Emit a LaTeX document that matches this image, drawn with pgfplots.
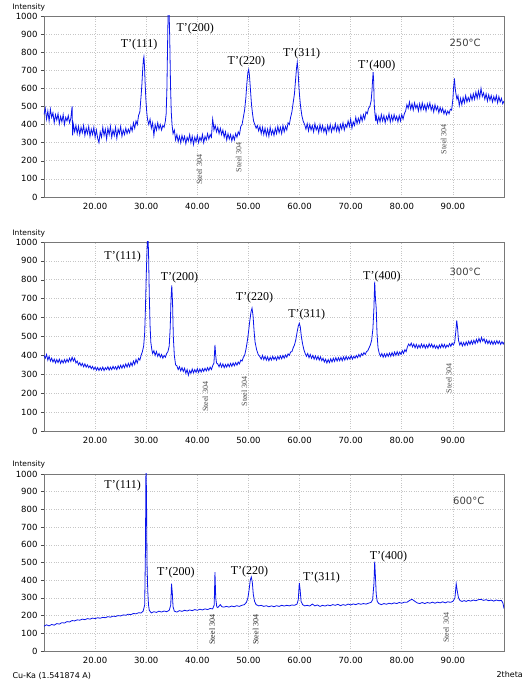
\documentclass[border=0pt]{standalone}
\usepackage{fontspec}
\setmainfont{DejaVu Sans}
\newfontfamily\tnr{Liberation Serif}
\usepackage{pgfplots}
\pgfplotsset{compat=1.18}

\definecolor{xrdblue}{RGB}{10,20,235}
\definecolor{framegray}{RGB}{120,120,120}

\pgfplotsset{
  xrdpanel/.style={
    scale only axis, width=460pt, anchor=south west,
    xmin=10, xmax=100, ymin=0, ymax=1000,
    xtick={20,30,...,90}, ytick={0,100,...,1000},
    grid=major, major grid style={dotted, gray!45, line width=0.6pt},
    axis line style={framegray, line width=0.8pt},
    tick pos=left, tick align=outside, major tick length=3pt,
    xtick style={draw=none}, ytick style={black!70, line width=0.5pt},
    scaled ticks=false,
    /pgf/number format/assume math mode=true,
    tick label style={font=\fontsize{8.5}{10}\selectfont},
    xticklabel style={/pgf/number format/.cd, fixed, fixed zerofill, precision=2},
    yticklabel style={/pgf/number format/.cd, fixed, precision=0, 1000 sep={}},
    clip mode=individual,
  },
}
\tikzset{
  peak/.style={font=\tnr\fontsize{12}{12}\selectfont},
  steel/.style={rotate=90, font=\tnr\fontsize{8}{8}\selectfont, text=black!70},
  temp/.style={font=\fontsize{10}{10}\selectfont, text=black!75},
}

\begin{document}
\begin{tikzpicture}
\useasboundingbox (0,0) rectangle (524pt,683pt);

% ---- 250 C ----
\begin{axis}[xrdpanel, at={(44pt,486pt)}, height=181pt]
\addplot[xrdblue, line width=0.8pt, mark=none] coordinates {
(10,455)(10.25,490)(10.5,430)(10.75,475)(11,420)(11.25,485)(11.5,440)(11.75,465)(12,410)(12.25,455)(12.5,425)(12.75,460)(13,405)(13.25,445)(13.5,415)(13.75,455)(14,400)(14.25,440)(14.5,420)(14.75,450)(15,410)(15.25,435)(15.5,500)(15.6,340)(15.75,400)(16,360)(16.25,395)(16.5,350)(16.75,390)(17,345)(17.25,385)(17.5,355)(17.75,395)(18,340)(18.25,380)(18.5,350)(18.75,390)(19,335)(19.25,375)(19.5,345)(19.75,385)(20,330)(20.25,370)(20.5,325)(20.75,300)(21,360)(21.25,330)(21.5,385)(21.75,340)(22,375)(22.25,320)(22.5,380)(22.75,345)(23,390)(23.25,330)(23.5,370)(23.75,340)(24,385)(24.25,325)(24.5,375)(24.75,350)(25,390)(25.25,335)(25.5,370)(25.75,345)(26,380)(26.25,350)(26.5,375)(26.75,355)(27,390)(27.25,365)(27.5,410)(27.75,380)(28,420)(28.25,400)(28.5,450)(28.75,470)(29,560)(29.15,620)(29.3,700)(29.45,760)(29.55,775)(29.65,730)(29.8,620)(29.95,530)(30.1,470)(30.25,430)(30.5,400)(30.75,430)(31,380)(31.25,410)(31.5,340)(31.75,400)(32,370)(32.25,410)(32.5,375)(32.75,400)(33,370)(33.25,395)(33.5,385)(33.75,420)(33.9,460)(34.05,600)(34.2,880)(34.3,1050)(34.45,1050)(34.6,880)(34.75,620)(34.9,470)(35.05,400)(35.25,350)(35.5,370)(35.75,315)(36,345)(36.25,305)(36.5,335)(36.75,300)(37,340)(37.25,310)(37.5,335)(37.75,295)(38,330)(38.25,310)(38.5,345)(38.75,300)(39,335)(39.25,290)(39.5,330)(39.75,305)(40,340)(40.25,300)(40.5,330)(40.75,310)(41,345)(41.25,300)(41.5,335)(41.75,315)(42,350)(42.25,320)(42.5,345)(42.75,330)(43,430)(43.15,400)(43.25,370)(43.5,395)(43.75,360)(44,385)(44.25,350)(44.5,380)(44.75,345)(45,370)(45.25,330)(45.5,360)(45.75,315)(46,350)(46.25,320)(46.5,345)(46.75,310)(47,340)(47.25,315)(47.5,350)(47.75,330)(48,360)(48.25,345)(48.5,390)(48.75,400)(49,440)(49.25,480)(49.5,550)(49.7,630)(49.9,690)(50.05,705)(50.2,670)(50.4,590)(50.6,510)(50.8,460)(51,420)(51.25,400)(51.5,380)(51.75,395)(52,365)(52.25,390)(52.5,350)(52.75,385)(53,345)(53.25,380)(53.5,340)(53.75,375)(54,335)(54.25,385)(54.5,345)(54.75,370)(55,340)(55.25,380)(55.5,350)(55.75,390)(56,355)(56.25,385)(56.5,350)(56.75,395)(57,360)(57.25,390)(57.5,370)(57.75,410)(58,400)(58.25,440)(58.5,470)(58.75,520)(59,570)(59.2,640)(59.4,710)(59.55,745)(59.7,700)(59.85,620)(60,560)(60.2,500)(60.45,450)(60.7,420)(61,400)(61.25,375)(61.5,405)(61.75,365)(62,400)(62.25,370)(62.5,395)(62.75,360)(63,405)(63.25,370)(63.5,390)(63.75,355)(64,400)(64.25,365)(64.5,395)(64.75,360)(65,385)(65.25,350)(65.5,395)(65.75,365)(66,400)(66.25,360)(66.5,390)(66.75,370)(67,405)(67.25,365)(67.5,395)(67.75,360)(68,400)(68.25,375)(68.5,410)(68.75,370)(69,400)(69.25,385)(69.5,420)(69.75,390)(70,430)(70.25,380)(70.5,415)(70.75,395)(71,440)(71.25,405)(71.5,435)(71.75,410)(72,450)(72.25,420)(72.5,455)(72.75,430)(73,470)(73.25,460)(73.5,490)(73.75,500)(74,530)(74.15,580)(74.3,650)(74.4,690)(74.5,640)(74.6,520)(74.75,460)(74.9,420)(75,450)(75.25,410)(75.5,445)(75.75,415)(76,455)(76.25,420)(76.5,450)(76.75,410)(77,445)(77.25,425)(77.5,460)(77.75,415)(78,450)(78.25,420)(78.5,455)(78.75,425)(79,445)(79.25,415)(79.5,450)(79.75,420)(80,455)(80.25,430)(80.5,460)(80.75,475)(81,510)(81.25,490)(81.5,525)(81.75,485)(82,515)(82.25,480)(82.5,520)(82.75,490)(83,510)(83.25,475)(83.5,515)(83.75,480)(84,520)(84.25,485)(84.5,510)(84.75,475)(85,515)(85.25,490)(85.5,520)(85.75,480)(86,505)(86.25,470)(86.5,510)(86.75,480)(87,500)(87.25,465)(87.5,495)(87.75,470)(88,490)(88.25,460)(88.5,480)(88.75,455)(89,475)(89.25,460)(89.5,485)(89.75,480)(90,540)(90.15,610)(90.3,655)(90.45,600)(90.6,570)(90.8,540)(91,560)(91.25,505)(91.5,545)(91.75,510)(92,550)(92.25,520)(92.5,560)(92.75,525)(93,550)(93.25,530)(93.5,565)(93.75,535)(94,570)(94.25,540)(94.5,580)(94.75,545)(95,585)(95.25,550)(95.5,600)(95.75,555)(96,575)(96.25,540)(96.5,570)(96.75,530)(97,565)(97.25,535)(97.5,560)(97.75,525)(98,555)(98.25,530)(98.5,560)(98.75,520)(99,555)(99.25,525)(99.5,545)(99.75,515)(100,530)
};
\node[peak] at (axis cs:28.6,840) {T’(111)};
\node[peak] at (axis cs:39.6,930) {T’(200)};
\node[peak] at (axis cs:49.6,748) {T’(220)};
\node[peak] at (axis cs:60.4,794) {T’(311)};
\node[peak] at (axis cs:75.1,725) {T’(400)};
\node[steel] at (axis cs:40.4,150) {Steel 304};
\node[steel] at (axis cs:48.1,220) {Steel 304};
\node[steel] at (axis cs:88.2,320) {Steel 304};
\node[temp] at (axis cs:92.4,850) {250°C};
\end{axis}

% ---- 300 C ----
\begin{axis}[xrdpanel, at={(44pt,252pt)}, height=189pt]
\addplot[xrdblue, line width=0.8pt, mark=none] coordinates {
(10,400)(10.25,385)(10.5,405)(10.75,375)(11,395)(11.25,370)(11.5,385)(11.75,365)(12,380)(12.25,360)(12.5,378)(12.75,362)(13,380)(13.25,358)(13.5,375)(13.75,360)(14,378)(14.25,362)(14.5,380)(14.75,365)(15,385)(15.25,368)(15.5,390)(15.75,370)(16,385)(16.25,360)(16.5,370)(16.75,350)(17,362)(17.25,345)(17.5,358)(17.75,340)(18,355)(18.25,338)(18.5,350)(18.75,335)(19,345)(19.25,330)(19.5,342)(19.75,325)(20,338)(20.25,322)(20.5,336)(20.75,320)(21,335)(21.25,322)(21.5,338)(21.75,320)(22,335)(22.25,325)(22.5,340)(22.75,322)(23,338)(23.25,325)(23.5,342)(23.75,328)(24,340)(24.25,325)(24.5,345)(24.75,330)(25,348)(25.25,332)(25.5,350)(25.75,335)(26,355)(26.25,338)(26.5,358)(26.75,340)(27,362)(27.25,345)(27.5,370)(27.75,352)(28,378)(28.25,360)(28.5,385)(28.75,375)(29,400)(29.25,420)(29.5,450)(29.7,520)(29.85,650)(30,820)(30.15,950)(30.3,1050)(30.45,950)(30.6,720)(30.75,560)(30.9,470)(31.1,430)(31.25,410)(31.5,425)(31.75,400)(32,420)(32.25,395)(32.5,410)(32.75,390)(33,405)(33.25,385)(33.5,400)(33.75,390)(34,410)(34.25,420)(34.5,450)(34.7,550)(34.85,700)(35,770)(35.15,680)(35.3,500)(35.5,400)(35.75,350)(36,345)(36.25,325)(36.5,340)(36.75,318)(37,335)(37.25,315)(37.5,332)(37.75,305)(38,325)(38.25,295)(38.5,320)(38.75,305)(39,328)(39.25,308)(39.5,325)(39.75,310)(40,330)(40.25,310)(40.5,328)(40.75,312)(41,330)(41.25,315)(41.5,332)(41.75,318)(42,335)(42.25,320)(42.5,338)(42.75,325)(43,345)(43.25,360)(43.45,455)(43.6,400)(43.75,360)(44,355)(44.25,340)(44.5,358)(44.75,338)(45,355)(45.25,335)(45.5,352)(45.75,338)(46,355)(46.25,340)(46.5,358)(46.75,342)(47,360)(47.25,345)(47.5,362)(47.75,348)(48,365)(48.25,355)(48.5,375)(48.75,370)(49,390)(49.25,400)(49.5,430)(49.75,470)(50,520)(50.25,580)(50.5,630)(50.7,650)(50.9,610)(51.1,530)(51.3,470)(51.6,430)(51.9,405)(52.2,395)(52.5,380)(52.75,400)(53,378)(53.25,395)(53.5,375)(53.75,392)(54,372)(54.25,390)(54.5,375)(54.75,395)(55,378)(55.25,392)(55.5,375)(55.75,395)(56,380)(56.25,398)(56.5,382)(56.75,400)(57,385)(57.25,402)(57.5,390)(57.75,408)(58,400)(58.25,418)(58.5,420)(58.75,440)(59,455)(59.25,480)(59.5,520)(59.75,555)(59.95,570)(60.15,550)(60.35,500)(60.6,460)(60.85,430)(61.1,410)(61.35,395)(61.6,410)(61.85,388)(62.1,405)(62.35,385)(62.6,400)(62.85,380)(63.1,398)(63.35,378)(63.6,395)(63.85,375)(64.1,392)(64.35,372)(64.6,385)(64.85,365)(65.1,380)(65.35,360)(65.6,378)(65.85,362)(66.1,382)(66.35,365)(66.6,385)(66.85,368)(67.1,388)(67.35,370)(67.6,388)(67.85,372)(68.1,390)(68.35,372)(68.6,392)(68.85,375)(69.1,395)(69.35,378)(69.6,392)(69.85,380)(70.1,398)(70.35,380)(70.6,395)(70.85,385)(71.1,400)(71.35,388)(71.6,405)(71.85,392)(72.1,410)(72.35,400)(72.6,415)(72.85,405)(73.1,420)(73.35,425)(73.6,440)(73.85,455)(74.1,480)(74.35,540)(74.55,650)(74.7,790)(74.85,700)(75,650)(75.15,520)(75.35,440)(75.6,410)(75.85,395)(76.1,410)(76.35,390)(76.6,408)(76.85,392)(77.1,410)(77.35,395)(77.6,412)(77.85,395)(78.1,415)(78.35,398)(78.6,418)(78.85,400)(79.1,420)(79.35,402)(79.6,418)(79.85,405)(80.1,425)(80.35,410)(80.6,430)(80.85,420)(81.1,445)(81.35,460)(81.6,450)(81.85,465)(82.1,445)(82.35,460)(82.6,440)(82.85,458)(83.1,438)(83.35,455)(83.6,440)(83.85,460)(84.1,442)(84.35,458)(84.6,438)(84.85,455)(85.1,440)(85.35,462)(85.6,445)(85.85,460)(86.1,440)(86.35,455)(86.6,438)(86.85,452)(87.1,435)(87.35,455)(87.6,440)(87.85,460)(88.1,442)(88.35,458)(88.6,440)(88.85,455)(89.1,445)(89.35,462)(89.6,448)(89.85,465)(90.1,455)(90.35,470)(90.55,520)(90.75,585)(90.9,550)(91.1,480)(91.35,455)(91.6,470)(91.85,450)(92.1,468)(92.35,452)(92.6,472)(92.85,455)(93.1,475)(93.35,458)(93.6,478)(93.85,460)(94.1,480)(94.35,462)(94.6,485)(94.85,468)(95.1,490)(95.35,470)(95.6,495)(95.85,475)(96.1,488)(96.35,465)(96.6,482)(96.85,462)(97.1,478)(97.35,460)(97.6,476)(97.85,458)(98.1,475)(98.35,460)(98.6,478)(98.85,462)(99.1,476)(99.35,458)(99.6,472)(99.85,460)(100,470)
};
\node[peak] at (axis cs:25.4,921) {T’(111)};
\node[peak] at (axis cs:36.5,810) {T’(200)};
\node[peak] at (axis cs:51.2,704) {T’(220)};
\node[peak] at (axis cs:61.4,616) {T’(311)};
\node[peak] at (axis cs:76.1,815) {T’(400)};
\node[steel] at (axis cs:41.6,180) {Steel 304};
\node[steel] at (axis cs:49.2,210) {Steel 304};
\node[steel] at (axis cs:89.2,280) {Steel 304};
\node[temp] at (axis cs:92.4,841) {300°C};
\end{axis}

% ---- 600 C ----
\begin{axis}[xrdpanel, at={(44pt,32pt)}, height=177pt]
\addplot[xrdblue, line width=0.8pt, mark=none] coordinates {
(10,140)(10.5,148)(11,142)(11.5,150)(12,146)(12.5,155)(13,152)(13.5,160)(14,158)(14.5,166)(15,164)(15.5,172)(16,170)(16.5,176)(17,174)(17.5,180)(18,177)(18.5,183)(19,180)(19.5,186)(20,183)(20.5,188)(21,185)(21.5,190)(22,188)(22.5,194)(23,191)(23.5,197)(24,195)(24.5,200)(25,198)(25.5,204)(26,202)(26.5,208)(27,205)(27.5,212)(28,210)(28.5,216)(29,215)(29.4,225)(29.7,260)(29.85,570)(29.95,1050)(30.05,900)(30.15,500)(30.3,340)(30.45,260)(30.6,230)(31,215)(31.5,222)(32,218)(32.5,225)(33,220)(33.5,226)(34,222)(34.5,230)(34.8,260)(34.95,380)(35.1,330)(35.25,250)(35.5,225)(36,220)(36.5,228)(37,224)(37.5,230)(38,226)(38.5,232)(39,228)(39.5,234)(40,230)(40.5,236)(41,232)(41.5,238)(42,234)(42.5,240)(43,238)(43.3,260)(43.45,445)(43.6,300)(43.8,250)(44,245)(44.5,262)(44.8,250)(45.2,248)(45.7,252)(46.2,248)(46.7,254)(47.2,250)(47.7,256)(48.2,252)(48.7,258)(49.2,262)(49.6,275)(49.9,300)(50.15,350)(50.35,400)(50.55,418)(50.75,390)(50.95,320)(51.2,280)(51.5,262)(52,255)(52.5,258)(53,252)(53.5,256)(54,250)(54.5,255)(55,250)(55.5,256)(56,252)(56.5,258)(57,254)(57.5,258)(58,255)(58.5,260)(59,258)(59.5,265)(59.75,290)(59.95,385)(60.1,350)(60.3,280)(60.6,262)(61,255)(61.5,258)(62,254)(62.5,265)(63,255)(63.5,260)(64,252)(64.5,258)(65,254)(65.5,260)(66,256)(66.5,262)(67,258)(67.5,264)(68,256)(68.5,262)(69,258)(69.5,265)(70,260)(70.5,266)(71,262)(71.5,268)(72,264)(72.5,268)(73,265)(73.5,270)(74,275)(74.3,290)(74.55,380)(74.7,505)(74.85,420)(75,320)(75.2,280)(75.5,268)(76,262)(76.5,268)(77,264)(77.5,270)(78,266)(78.5,272)(79,268)(79.5,274)(80,270)(80.5,276)(81,275)(81.5,285)(82,292)(82.5,282)(83,272)(83.5,268)(84,274)(84.5,268)(85,274)(85.5,270)(86,276)(86.5,270)(87,276)(87.5,272)(88,278)(88.5,272)(89,278)(89.5,275)(90,280)(90.4,300)(90.65,380)(90.85,340)(91.1,300)(91.4,285)(91.8,280)(92.2,285)(92.6,280)(93,286)(93.5,282)(94,288)(94.5,284)(95,290)(95.5,292)(96,286)(96.5,290)(97,284)(97.5,288)(98,282)(98.5,288)(99,284)(99.5,286)(99.8,270)(100,240)
};
\node[peak] at (axis cs:25.4,934) {T’(111)};
\node[peak] at (axis cs:35.8,441) {T’(200)};
\node[peak] at (axis cs:50.2,446) {T’(220)};
\node[peak] at (axis cs:64.3,417) {T’(311)};
\node[peak] at (axis cs:77.4,536) {T’(400)};
\node[steel, text=black!85] at (axis cs:42.9,120) {Steel 304};
\node[steel, text=black!85] at (axis cs:51.4,120) {Steel 304};
\node[steel] at (axis cs:88.7,130) {Steel 304};
\node[temp] at (axis cs:93.1,848) {600°C};
\end{axis}

\node[anchor=west, font=\fontsize{7.5}{8}\selectfont] at (9pt,676pt) {Intensity};
\node[anchor=west, font=\fontsize{7.5}{8}\selectfont] at (9pt,450pt) {Intensity};
\node[anchor=west, font=\fontsize{7.5}{8}\selectfont] at (9pt,219pt) {Intensity};
\node[anchor=west, font=\fontsize{8}{9}\selectfont] at (9pt,7pt) {Cu-Ka (1.541874 A)};
\node[anchor=east, font=\fontsize{8}{9}\selectfont, inner sep=1pt] at (524pt,8pt) {2theta};
\end{tikzpicture}
\end{document}
